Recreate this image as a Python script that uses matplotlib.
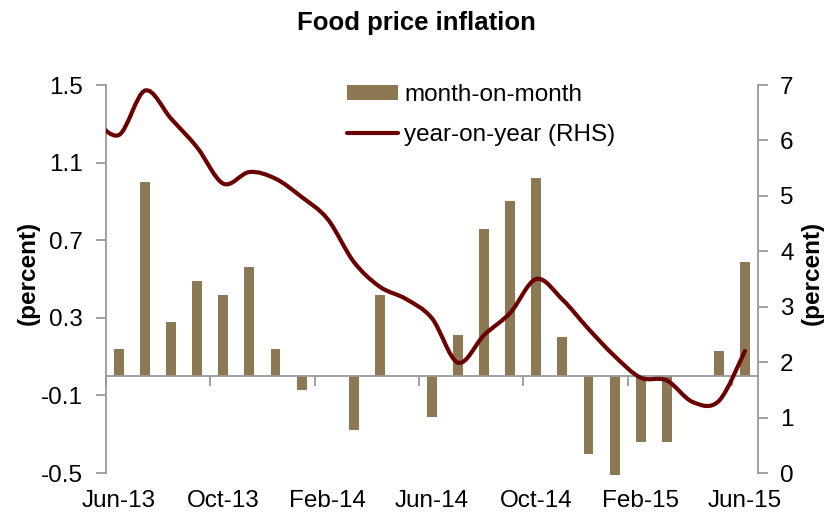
import matplotlib
matplotlib.use("Agg")
import matplotlib.pyplot as plt
from matplotlib.path import Path
from matplotlib.patches import PathPatch
from matplotlib.lines import Line2D
from matplotlib.patches import Patch
import numpy as np

plt.rcParams['font.family'] = ['Liberation Sans', 'DejaVu Sans']

months = ["Jun-13", "Jul-13", "Aug-13", "Sep-13", "Oct-13", "Nov-13", "Dec-13",
          "Jan-14", "Feb-14", "Mar-14", "Apr-14", "May-14", "Jun-14", "Jul-14",
          "Aug-14", "Sep-14", "Oct-14", "Nov-14", "Dec-14", "Jan-15", "Feb-15",
          "Mar-15", "Apr-15", "May-15", "Jun-15"]
mom = [0.14, 1.00, 0.28, 0.49, 0.42, 0.56, 0.14, -0.07, 0.0, -0.28, 0.42, 0.0,
       -0.21, 0.21, 0.76, 0.90, 1.02, 0.20, -0.40, -0.51, -0.34, -0.34, 0.0,
       0.13, 0.59]
# year-on-year series (RHS); first value is May-13 (partly outside the plot)
yoy_months = ["May-13"] + months
yoy = [6.40, 6.10, 6.90, 6.39, 5.87, 5.22, 5.43, 5.31, 4.98, 4.58, 3.81, 3.36,
       3.14, 2.79, 1.99, 2.49, 2.89, 3.50, 3.13, 2.60, 2.11, 1.72, 1.67, 1.28,
       1.30, 2.20]
xtick_labels = ["Jun-13", "Oct-13", "Feb-14", "Jun-14", "Oct-14", "Feb-15", "Jun-15"]

bar_color = "#8C7853"
line_color = "#6B0000"
spine_gray = "#9A9A9A"

W, H = 829, 521
fig = plt.figure(figsize=(W / 100, H / 100), dpi=100)
ax = fig.add_axes([106 / W, 1 - 473 / H, (758 - 106) / W, (473 - 85) / H])
ax2 = ax.twinx()

x = np.arange(len(months))
ax.bar(x, mom, width=0.38, color=bar_color, zorder=2, clip_on=False)
ax.set_xlim(-0.5, len(months) - 0.5)
ax.set_ylim(-0.5, 1.5)
ax.set_yticks([-0.5, -0.1, 0.3, 0.7, 1.1, 1.5])
ax.set_yticklabels(["-0.5", "-0.1", "0.3", "0.7", "1.1", "1.5"])
ax.axhline(0, color=spine_gray, lw=1.3, zorder=3)

# x labels at category centres (bottom), tick marks at boundaries on zero line
pos = {m: i for i, m in enumerate(months)}
ax.set_xticks([pos[m] for m in xtick_labels])
ax.set_xticklabels(xtick_labels)
ax.tick_params(axis='x', length=0, labelsize=17.5, pad=12)
sec = ax.secondary_xaxis(0.25)
sec.set_xticks(np.arange(-0.5, len(months), 4))
sec.set_xticklabels([])
sec.tick_params(axis='x', length=7, width=1.3, color=spine_gray, direction='out')
sec.spines['bottom'].set_visible(False)

for s in ['top', 'bottom']:
    ax.spines[s].set_visible(False)
    ax2.spines[s].set_visible(False)
ax.spines['right'].set_visible(False)
ax.spines['left'].set_color(spine_gray)
ax.spines['left'].set_linewidth(1.3)
ax2.spines['left'].set_visible(False)
ax2.spines['right'].set_color(spine_gray)
ax2.spines['right'].set_linewidth(1.3)
ax.tick_params(axis='y', length=7, width=1.3, color=spine_gray, labelsize=17.5, pad=10)

ax2.set_ylim(0, 7)
ax2.set_yticks(range(0, 8))
ax2.tick_params(axis='y', length=7, width=1.3, color=spine_gray, labelsize=17.5, pad=9)

# smoothed line (Bezier through the data points, like a spreadsheet smooth line)
px = np.arange(len(yoy)) - 1.0
py = np.array(yoy)
verts = [(px[0], py[0])]
codes = [Path.MOVETO]
n = len(px)
for i in range(n - 1):
    i0 = max(i - 1, 0)
    i3 = min(i + 2, n - 1)
    c1 = (px[i] + (px[i + 1] - px[i0]) / 6, py[i] + (py[i + 1] - py[i0]) / 6)
    c2 = (px[i + 1] - (px[i3] - px[i]) / 6, py[i + 1] - (py[i3] - py[i]) / 6)
    verts += [c1, c2, (px[i + 1], py[i + 1])]
    codes += [Path.CURVE4] * 3
patch = PathPatch(Path(verts, codes), facecolor='none', edgecolor=line_color,
                  lw=3.0, capstyle='round', joinstyle='round', zorder=4)
ax2.add_patch(patch)
ax2.set_xlim(-0.5, len(months) - 0.5)

ax.set_ylabel("(percent)", fontsize=17.5, fontweight='bold')
ax.yaxis.set_label_coords((40 - 106) / 652, 0.515)
ax2.set_ylabel("(percent)", fontsize=17.5, fontweight='bold', rotation=90)
ax2.yaxis.set_label_coords((801 - 106) / 652, 0.515)

fig.suptitle("Food price inflation", fontsize=18.5, fontweight='bold', x=416 / W, y=1 - 11 / H, va='top')

handles = [Patch(facecolor=bar_color, edgecolor='none'),
           Line2D([0], [0], color=line_color, lw=3.0, solid_capstyle='round')]
leg = fig.legend(handles, ["month-on-month", "year-on-year (RHS)"],
                 loc='upper left', bbox_to_anchor=(330 / W, 1 - 67 / H),
                 frameon=False, fontsize=17.5, handlelength=2.1, handleheight=0.6,
                 handletextpad=0.25, labelspacing=0.75, borderpad=0.2)

fig.savefig("out.png", dpi=100)
